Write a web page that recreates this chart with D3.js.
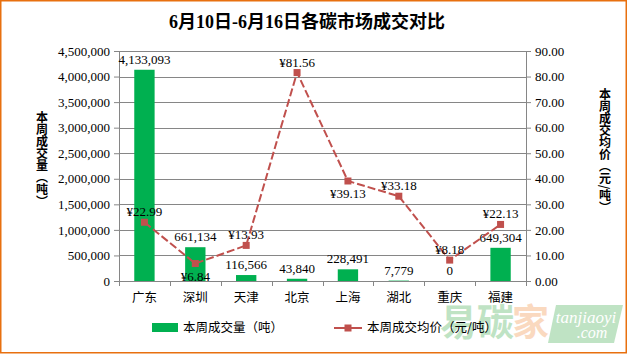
<!DOCTYPE html>
<html lang="zh-cn">
<head>
  <meta charset="utf-8">
  <title>各碳市场成交对比</title>
  <script src="https://cdn.jsdelivr.net/npm/d3@7"></script>
  <style>
    body { margin: 0; background: #fff; }
    svg text { font-family: "Liberation Serif", "Noto Sans CJK SC", serif; }
    .cjk { font-family: "Noto Sans CJK SC", sans-serif; }
  </style>
</head>
<body>
<div id="chart"></div>
<script>
  "use strict"

  // dados
  var mercados = ['广东', '深圳', '天津', '北京', '上海', '湖北', '重庆', '福建'];
  var volume = [4133093, 661134, 116566, 43840, 228491, 7779, 0, 649304];
  var preco = [22.99, 6.84, 13.93, 81.56, 39.13, 33.18, 8.18, 22.13];
  var ticksVolume = [0, 500000, 1000000, 1500000, 2000000, 2500000, 3000000, 3500000, 4000000, 4500000];
  var ticksPreco = [0, 10, 20, 30, 40, 50, 60, 70, 80, 90];
  // posicao dos rotulos de preco: 1 acima, -1 abaixo
  var ladoPreco = [1, -1, 1, 1, -1, 1, 1, 1];

  var largura = 627, altura = 354;
  var margin = {top: 51, right: 101, bottom: 73, left: 119},
      larguraVis = largura - margin.left - margin.right,
      alturaVis = altura - margin.top - margin.bottom;

  var svg = d3.select('#chart').append('svg')
      .attr('width', largura)
      .attr('height', altura);

  // borda laranja
  svg.append('rect')
      .attr('x', 0.75).attr('y', 0.75)
      .attr('width', largura - 1.5).attr('height', altura - 2)
      .attr('fill', '#fff')
      .attr('stroke', '#E8700F')
      .attr('stroke-width', 1.5);

  // marca d'agua (fica por baixo)
  var ma = svg.append('g').attr('opacity', 0.32);
  ma.append('text').attr('class', 'cjk').attr('x', 440).attr('y', 336)
      .attr('font-size', '37px').attr('font-weight', 'bold').attr('fill', '#3BAA4A').text('易碳');
  ma.append('text').attr('class', 'cjk').attr('x', 512).attr('y', 336)
      .attr('font-size', '37px').attr('font-weight', 'bold').attr('fill', '#F08A3C').text('家');
  ma.append('path').attr('d', 'M556,305 L623,305 L614,343 L548,343 Z').attr('fill', '#3BAA4A');
  svg.append('text').attr('x', 586).attr('y', 323).attr('text-anchor', 'middle')
      .attr('font-family', '"Liberation Sans", sans-serif').attr('font-style', 'italic')
      .attr('font-size', '17px').attr('fill', '#fff').text('tanjiaoyi');
  svg.append('text').attr('x', 592).attr('y', 338).attr('text-anchor', 'middle')
      .attr('font-family', '"Liberation Sans", sans-serif').attr('font-style', 'italic')
      .attr('font-size', '16px').attr('fill', '#fff').text('.com');

  // titulo
  svg.append('text')
      .attr('x', 307).attr('y', 28)
      .attr('text-anchor', 'middle')
      .attr('font-size', '18px')
      .attr('font-weight', 'bold')
      .text('6月10日-6月16日各碳市场成交对比');

  var g = svg.append('g')
      .attr('transform', 'translate(' + margin.left + ',' + margin.top + ')');

  var x = d3.scaleBand().domain(mercados).range([0, larguraVis]);
  var yL = d3.scaleLinear().domain([0, 4500000]).range([alturaVis, 0]);
  var yR = d3.scaleLinear().domain([0, 90]).range([alturaVis, 0]);

  var cinza = '#868686';

  // grade
  g.selectAll('.grade').data(ticksVolume.slice(1)).enter()
    .append('line')
      .attr('x1', 0).attr('x2', larguraVis)
      .attr('y1', d => Math.round(yL(d)) + 0.5)
      .attr('y2', d => Math.round(yL(d)) + 0.5)
      .attr('stroke', cinza);

  // eixos
  var eixoE = g.append('g')
      .call(d3.axisLeft(yL).tickValues(ticksVolume).tickFormat(d3.format(',')).tickSizeOuter(0).tickSize(5).tickPadding(4));
  var eixoD = g.append('g')
      .attr('transform', 'translate(' + larguraVis + ',0)')
      .call(d3.axisRight(yR).tickValues(ticksPreco).tickFormat(d3.format('.2f')).tickSizeOuter(0).tickSize(5).tickPadding(4));
  [eixoE, eixoD].forEach(function(e) {
    e.selectAll('path, line').attr('stroke', cinza);
    e.selectAll('text').attr('font-size', '13px').attr('fill', '#000')
      .attr('font-family', '"Liberation Serif", serif');
  });

  // eixo x
  var eixoX = g.append('g').attr('transform', 'translate(0,' + alturaVis + ')');
  eixoX.append('line').attr('x1', 0).attr('x2', larguraVis).attr('y1', 0.5).attr('y2', 0.5).attr('stroke', cinza);
  eixoX.selectAll('.tk').data(d3.range(mercados.length + 1)).enter()
    .append('line')
      .attr('x1', i => Math.round(i * x.step()) + 0.5)
      .attr('x2', i => Math.round(i * x.step()) + 0.5)
      .attr('y1', 0).attr('y2', 5)
      .attr('stroke', cinza);
  eixoX.selectAll('.rot').data(mercados).enter()
    .append('text')
      .attr('class', 'cjk')
      .attr('x', d => x(d) + x.bandwidth() / 2)
      .attr('y', 21)
      .attr('text-anchor', 'middle')
      .attr('font-size', '12.5px')
      .text(d => d);

  // barras
  var lb = x.bandwidth() * 0.4;
  g.selectAll('.barra').data(volume).enter()
    .append('rect')
      .attr('x', (d, i) => x(mercados[i]) + (x.bandwidth() - lb) / 2)
      .attr('y', d => yL(d))
      .attr('width', lb)
      .attr('height', d => alturaVis - yL(d))
      .attr('fill', '#00B050');

  g.selectAll('.rotBarra').data(volume).enter()
    .append('text')
      .attr('x', (d, i) => x(mercados[i]) + x.bandwidth() / 2)
      .attr('y', d => yL(d) - 6)
      .attr('text-anchor', 'middle')
      .attr('font-size', '13px')
      .text(d => d3.format(',')(d));

  // linha de preco
  var cx = (d, i) => x(mercados[i]) + x.bandwidth() / 2;
  var linha = d3.line().x(cx).y(d => yR(d));
  g.append('path')
      .datum(preco)
      .attr('d', linha)
      .attr('fill', 'none')
      .attr('stroke', '#C0504D')
      .attr('stroke-width', 2)
      .attr('stroke-dasharray', '8,3');

  g.selectAll('.marca').data(preco).enter()
    .append('rect')
      .attr('x', (d, i) => cx(d, i) - 3.5)
      .attr('y', d => yR(d) - 3.5)
      .attr('width', 7).attr('height', 7)
      .attr('fill', '#C0504D');

  g.selectAll('.rotPreco').data(preco).enter()
    .append('text')
      .attr('x', cx)
      .attr('y', (d, i) => ladoPreco[i] > 0 ? yR(d) - 6 : yR(d) + 17)
      .attr('text-anchor', 'middle')
      .attr('font-size', '13px')
      .text(d => '¥' + d3.format('.2f')(d));

  // titulos dos eixos
  svg.append('text')
      .attr('class', 'cjk')
      .attr('x', 42).attr('y', 159)
      .attr('text-anchor', 'middle')
      .attr('font-size', '12px')
      .attr('font-weight', 'bold')
      .style('writing-mode', 'vertical-rl')
      .text('本周成交量（吨）');
  svg.append('text')
      .attr('class', 'cjk')
      .attr('x', 605).attr('y', 151)
      .attr('text-anchor', 'middle')
      .attr('font-size', '12px')
      .attr('font-weight', 'bold')
      .style('writing-mode', 'vertical-rl')
      .text('本周成交均价（元/吨）');

  // legenda
  var leg = svg.append('g');
  leg.append('rect').attr('x', 152).attr('y', 323).attr('width', 26).attr('height', 9).attr('fill', '#00B050');
  leg.append('text').attr('class', 'cjk').attr('x', 183).attr('y', 332).attr('font-size', '12.5px').text('本周成交量（吨）');
  leg.append('line').attr('x1', 334).attr('x2', 362).attr('y1', 328).attr('y2', 328)
      .attr('stroke', '#C0504D').attr('stroke-width', 2);
  leg.append('rect').attr('x', 344.5).attr('y', 324.5).attr('width', 7).attr('height', 7).attr('fill', '#C0504D');
  leg.append('text').attr('class', 'cjk').attr('x', 367).attr('y', 332).attr('font-size', '12.5px').text('本周成交均价（元/吨）');
</script>
</body>
</html>
